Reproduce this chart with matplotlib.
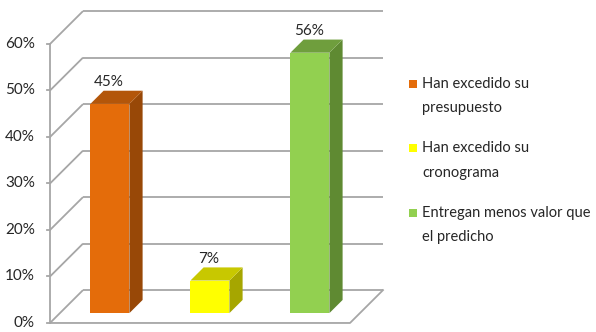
import matplotlib
matplotlib.use("Agg")
import matplotlib.pyplot as plt
from matplotlib.patches import Polygon, Rectangle
import numpy as np

# data
labels = ["Han excedido su\npresupuesto", "Han excedido su\ncronograma",
          "Entregan menos valor que\nel predicho"]
values = [45, 7, 56]
front_colors = ["#E46C0A", "#FFFF00", "#92D050"]
side_colors = ["#984807", "#A6A600", "#5F8A32"]
top_colors = ["#B3560A", "#C8C800", "#6F9E3D"]
yticks = [0, 10, 20, 30, 40, 50, 60]

plt.rcParams['font.family'] = ['Lato', 'DejaVu Sans']

fig = plt.figure(figsize=(5.96, 3.32), dpi=100)
ax = fig.add_axes([0, 0, 1, 1])
ax.set_xlim(-1.0, 4.96)
ax.set_ylim(-1.94, 69.46)
ax.axis('off')

# oblique depth of the "3d" box
dx, dy = 0.33, 7.07
grid_c = "#A6A6A6"
lw = 1.3

# walls: gridlines on left wall and back wall
for v in yticks:
    ax.plot([-0.5, -0.5 + dx], [v, v + dy], color=grid_c, lw=lw, zorder=1,
            solid_capstyle='butt')
    ax.plot([-0.5 + dx, 2.5 + dx], [v + dy, v + dy], color=grid_c, lw=lw,
            zorder=1, solid_capstyle='butt')
    ax.plot([-0.53, -0.5], [v, v], color=grid_c, lw=lw, zorder=1)
    ax.text(-0.65, v, f"{v}%", ha='right', va='center', fontsize=11,
            color='#262626')

# vertical axis and floor
ax.plot([-0.5, -0.5], [0, yticks[-1]], color=grid_c, lw=lw, zorder=1)
ax.plot([-0.5, 2.5, 2.5 + dx], [0, 0, dy], color=grid_c, lw=lw, zorder=1)

# bars
x = np.arange(len(values))
w = 0.39
f0, f1 = 0.3, 0.7
fx, fy = f0 * dx, f0 * dy
bx, by = (f1 - f0) * dx, (f1 - f0) * dy
ax.bar(x + fx, values, width=w, bottom=fy, color=front_colors, zorder=3)
for i, v in enumerate(values):
    x0 = x[i] + fx - w / 2
    x1 = x[i] + fx + w / 2
    side = [(x1, fy), (x1 + bx, fy + by), (x1 + bx, fy + v + by), (x1, fy + v)]
    top = [(x0, fy + v), (x1, fy + v), (x1 + bx, fy + v + by), (x0 + bx, fy + v + by)]
    ax.add_patch(Polygon(side, closed=True, facecolor=side_colors[i],
                         edgecolor='none', zorder=3))
    ax.add_patch(Polygon(top, closed=True, facecolor=top_colors[i],
                         edgecolor='none', zorder=3))
    ax.text(x[i] + fx - 0.01, v + f1 * dy + 0.3, f"{v}%", ha='center',
            va='bottom', fontsize=11, color='#262626', zorder=4)

# legend
for i, lab in enumerate(labels):
    ytop = 1 - (77 + i * 64.5) / 332
    fig.patches.append(Rectangle((409 / 596, ytop - 11 / 332), 8 / 596, 8 / 332,
                                 transform=fig.transFigure,
                                 facecolor=front_colors[i], edgecolor='none'))
    fig.text(422 / 596, ytop, lab, ha='left', va='top', fontsize=10.5,
             color='#262626', linespacing=1.95)

fig.savefig("out.png", dpi=100)
